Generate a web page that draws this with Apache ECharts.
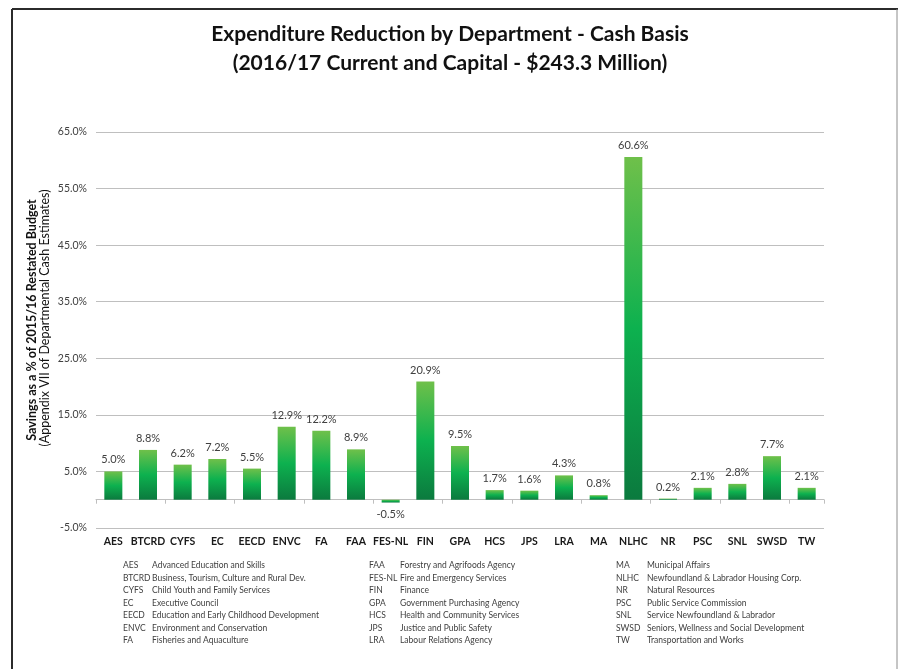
<!DOCTYPE html>
<html>
<head>
<meta charset="utf-8">
<script src="https://cdn.jsdelivr.net/npm/echarts@6/dist/echarts.min.js"></script>
<style>
  html, body { margin: 0; padding: 0; background: #ffffff; }
  #chart { width: 898px; height: 669px; }
</style>
</head>
<body>
<div id="chart"></div>
<script>
// Department abbreviations (x-axis categories) and savings as % of restated budget
const departments = ['AES', 'BTCRD', 'CYFS', 'EC', 'EECD', 'ENVC', 'FA', 'FAA', 'FES-NL', 'FIN', 'GPA',
  'HCS', 'JPS', 'LRA', 'MA', 'NLHC', 'NR', 'PSC', 'SNL', 'SWSD', 'TW'];
const savingsPct = [5.0, 8.8, 6.2, 7.2, 5.5, 12.9, 12.2, 8.9, -0.5, 20.9, 9.5,
  1.7, 1.6, 4.3, 0.8, 60.6, 0.2, 2.1, 2.8, 7.7, 2.1];

// Full department names for the key below the chart
const departmentNames = [
  'Advanced Education and Skills',
  'Business, Tourism, Culture and Rural Dev.',
  'Child Youth and Family Services',
  'Executive Council',
  'Education and Early Childhood Development',
  'Environment and Conservation',
  'Fisheries and Aquaculture',
  'Forestry and Agrifoods Agency',
  'Fire and Emergency Services',
  'Finance',
  'Government Purchasing Agency',
  'Health and Community Services',
  'Justice and Public Safety',
  'Labour Relations Agency',
  'Municipal Affairs',
  'Newfoundland & Labrador Housing Corp.',
  'Natural Resources',
  'Public Service Commission',
  'Service Newfoundland & Labrador',
  'Seniors, Wellness and Social Development',
  'Transportation and Works'
];

// Y axis range and step (percent)
const yMin = -5;
const yMax = 65;
const yStep = 10;

const titleLines = [
  'Expenditure Reduction by Department - Cash Basis',
  '(2016/17 Current and Capital - $243.3 Million)'
];
const yTitleLines = [
  'Savings as a % of 2015/16 Restated Budget',
  '(Appendix VII of Departmental Cash Estimates)'
];

const FONT = 'Lato, "Open Sans", "DejaVu Sans", sans-serif';

const chart = echarts.init(document.getElementById('chart'), null, { renderer: 'canvas' });

const barGradient = new echarts.graphic.LinearGradient(0, 0, 0, 1, [
  { offset: 0, color: '#6fc04a' },
  { offset: 0.5, color: '#0db14f' },
  { offset: 1, color: '#0b7a3e' }
]);

// Key: three columns of seven rows
const keyGraphics = [];
const colAbbrX = [123, 369, 616];
const colNameX = [152, 400, 647];
const rowY0 = 566;
const rowStep = 12.5;
departments.forEach((abbr, i) => {
  const col = Math.floor(i / 7);
  const row = i % 7;
  const y = rowY0 + row * rowStep;
  keyGraphics.push({
    type: 'text', left: colAbbrX[col], top: y - 5,
    style: { text: abbr, fill: '#404040', font: '8.5px ' + FONT }
  });
  keyGraphics.push({
    type: 'text', left: colNameX[col], top: y - 5,
    style: { text: departmentNames[i], fill: '#404040', font: '8.5px ' + FONT }
  });
});

const option = {
  backgroundColor: '#ffffff',
  animation: false,
  grid: { left: 96, right: 74, top: 132, bottom: 141, containLabel: false },
  xAxis: [
    {
      type: 'category',
      data: departments,
      position: 'bottom',
      axisLine: { show: false, onZero: false },
      axisTick: { show: false },
      axisLabel: {
        margin: 8,
        color: '#1a1a1a',
        fontFamily: FONT,
        fontWeight: 'bold',
        fontSize: 10.5,
        interval: 0
      },
      splitLine: { show: false }
    },
    {
      // zero baseline with category boundary ticks
      type: 'category',
      data: departments,
      position: 'bottom',
      axisLine: { show: true, onZero: true, lineStyle: { color: '#bfbfbf', width: 1 } },
      axisTick: { show: true, length: 4, lineStyle: { color: '#bfbfbf' } },
      axisLabel: { show: false },
      splitLine: { show: false }
    }
  ],
  yAxis: {
    type: 'value',
    min: yMin,
    max: yMax,
    interval: yStep,
    axisLine: { show: false },
    axisTick: { show: false },
    axisLabel: {
      margin: 9,
      color: '#404040',
      fontFamily: FONT,
      fontSize: 10.5,
      formatter: v => v.toFixed(1) + '%'
    },
    splitLine: { lineStyle: { color: '#bfbfbf', width: 1 } }
  },
  series: [{
    type: 'bar',
    xAxisIndex: 0,
    barWidth: '52%',
    data: savingsPct.map(v => ({
      value: v,
      label: { position: v < 0 ? 'bottom' : 'top' }
    })),
    itemStyle: { color: barGradient },
    label: {
      show: true,
      distance: 6,
      color: '#404040',
      fontFamily: FONT,
      fontSize: 11,
      formatter: p => p.value.toFixed(1) + '%'
    }
  }],
  graphic: [
    // frame
    { type: 'line', shape: { x1: 12, y1: 9, x2: 898, y2: 9 }, style: { stroke: '#2b2b2b', lineWidth: 2 } },
    { type: 'line', shape: { x1: 12, y1: 9, x2: 12, y2: 669 }, style: { stroke: '#2b2b2b', lineWidth: 2 } },
    { type: 'line', shape: { x1: 897, y1: 9, x2: 897, y2: 669 }, style: { stroke: '#8c8c8c', lineWidth: 1 } },
    // title
    {
      type: 'text', x: 450, y: 34,
      style: { text: titleLines[0], fill: '#111111', font: 'bold 21px ' + FONT, align: 'center', verticalAlign: 'middle' }
    },
    {
      type: 'text', x: 450, y: 63,
      style: { text: titleLines[1], fill: '#111111', font: 'bold 21px ' + FONT, align: 'center', verticalAlign: 'middle' }
    },
    // y axis title
    {
      type: 'text', x: 32, y: 320, rotation: Math.PI / 2,
      style: { text: yTitleLines[0], fill: '#111111', font: 'bold 12.5px ' + FONT, align: 'center', verticalAlign: 'middle' }
    },
    {
      type: 'text', x: 45, y: 318, rotation: Math.PI / 2,
      style: { text: yTitleLines[1], fill: '#111111', font: '12.5px ' + FONT, align: 'center', verticalAlign: 'middle' }
    },
    ...keyGraphics
  ]
};

chart.setOption(option);
</script>
</body>
</html>
